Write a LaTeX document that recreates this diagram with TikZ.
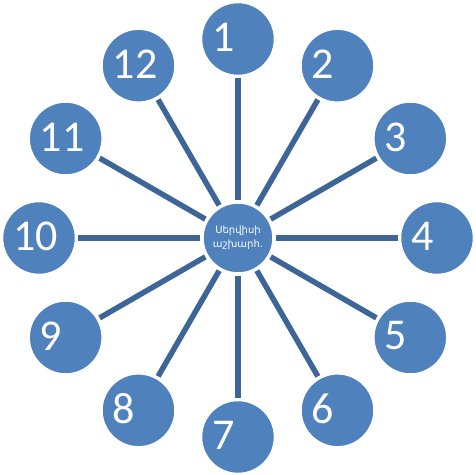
\documentclass[tikz,border=0pt]{standalone}
\usepackage{fontspec}
\newfontfamily\numfont{Carlito}
\newfontfamily\armfont[Script=Armenian]{DejaVu Sans}
\definecolor{fillblue}{HTML}{4F81BD}
\definecolor{spokeblue}{HTML}{3E6597}
\begin{document}
\begin{tikzpicture}[x=1pt,y=1pt,
  sat/.style={circle,fill=fillblue,draw=white,line width=1.5pt,minimum size=73pt,inner sep=0},
  hub/.style={circle,fill=fillblue,draw=white,line width=1.5pt,minimum size=70pt,inner sep=0,align=center,text=white,font=\armfont\fontsize{10}{14}\selectfont},
  spoke/.style={draw=spokeblue,line width=5.5pt,shorten <=2pt,shorten >=2pt},
  num/.style={text=white,font=\numfont\fontsize{44}{44}\selectfont,inner sep=0,anchor=west}]
\useasboundingbox (0,0) rectangle (475,475);
\coordinate (c) at (238,237);
\node[hub] (hub) at (c) {Սերվիսի\\աշխարհ.};
\foreach \i in {1,...,12}{
  \pgfmathsetmacro\a{90-30*(\i-1)}
  \node[sat] (s\i) at ([shift={(\a:199)}]c) {};
  \node[num] (t\i) at ([shift={(-26,1.5)}]s\i.center) {\i};
  \draw[spoke] (hub) -- (s\i);
}
\end{tikzpicture}
\end{document}
